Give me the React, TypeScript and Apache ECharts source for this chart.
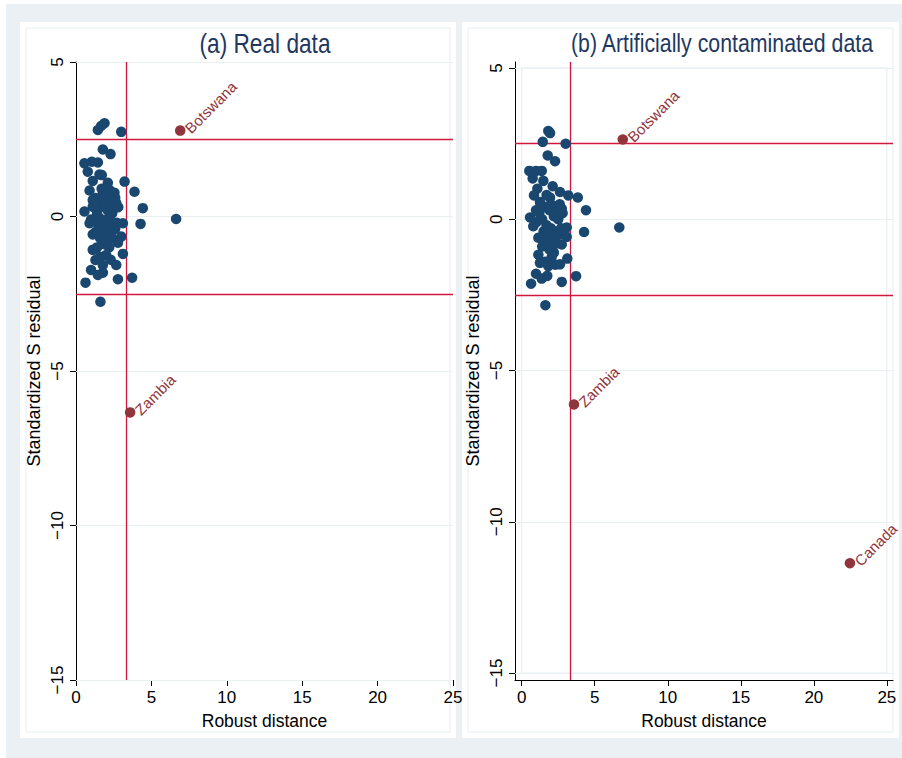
import React, { useEffect, useRef } from "react";
import * as echarts from "echarts";

// Panel (a): Real data
const aX = [1.89, 1.67, 1.45, 3.0, 1.78, 2.29, 0.56, 1.05, 1.45, 0.78, 1.56, 1.71, 1.11, 2.11, 3.22, 3.88, 0.9, 1.78, 2.55, 2.22, 1.11, 1.45, 2.67, 4.43, 0.56, 1.11, 1.78, 2.44, 6.64, 0.9, 1.56, 2.22, 3.11, 4.28, 1.11, 2.0, 3.0, 1.78, 2.78, 1.11, 3.11, 2.0, 1.29, 1.0, 1.78, 2.67, 1.45, 1.78, 2.78, 3.72, 0.63, 1.62,
  1.3, 1.6, 1.9, 2.1, 2.4, 1.4, 1.7, 2.0, 2.3, 2.6, 1.5, 1.8, 2.1, 2.4, 1.6, 1.9, 2.2, 1.4, 2.5, 2.8, 1.2, 1.0, 2.7, 1.3, 2.6, 2.0, 1.7, 2.3, 1.6];
const aY = [3.02, 2.93, 2.8, 2.74, 2.17, 2.02, 1.72, 1.77, 1.75, 1.45, 1.36, 1.34, 1.15, 1.09, 1.13, 0.8, 0.84, 0.75, 0.77, 0.86, 0.53, 0.43, 0.43, 0.27, 0.16, 0.32, 0.32, 0.21, -0.08, -0.22, -0.06, 0.0, -0.22, -0.24, -0.58, -0.49, -0.65, -0.87, -0.85, -1.08, -1.21, -1.25, -1.41, -1.73, -1.57, -1.57, -1.89, -1.82, -2.03, -1.98, -2.14, -2.76,
  0.6, 0.5, 0.4, 0.2, 0.1, 0.1, -0.1, -0.2, -0.3, -0.4, -0.3, -0.4, -0.6, -0.7, -0.7, -0.9, -1.0, -1.0, 0.4, 0.3, 0.3, -0.1, -0.2, -0.5, 0.6, 0.6, 0.9, -1.4, -1.3];
const aLabNames = ["Botswana", "Zambia"];
const aLabX = [6.91, 3.59];
const aLabY = [2.78, -6.34];

// Panel (b): Artificially contaminated data
const bX = [1.82, 1.94, 1.44, 3.01, 1.78, 2.28, 0.52, 0.98, 1.37, 0.75, 1.48, 2.12, 1.07, 2.62, 3.19, 3.84, 0.84, 1.94, 4.4, 1.25, 2.74, 0.98, 0.57, 6.68, 4.27, 3.08, 0.79, 1.14, 3.08, 2.74, 1.71, 1.14, 3.12, 2.05, 2.62, 1.25, 1.82, 0.98, 1.37, 1.75, 3.72, 2.74, 0.64, 1.62,
  1.3, 1.6, 1.9, 2.2, 2.5, 1.4, 1.7, 2.0, 2.3, 2.6, 1.5, 1.8, 2.1, 2.4, 1.6, 1.9, 2.2, 1.4, 2.5, 2.8, 1.2, 1.0, 2.7, 1.3, 2.6, 2.0, 1.7, 2.3, 1.6];
const bY = [2.92, 2.85, 2.56, 2.5, 2.11, 1.92, 1.6, 1.6, 1.6, 1.35, 1.27, 1.09, 1.01, 0.9, 0.79, 0.72, 0.79, 0.72, 0.3, 0.57, 0.35, 0.3, 0.06, -0.27, -0.42, -0.27, -0.23, -0.61, -0.58, -0.83, -0.8, -1.17, -1.3, -1.25, -1.49, -1.44, -1.55, -1.8, -1.96, -1.87, -1.88, -2.07, -2.13, -2.84,
  0.5, 0.4, 0.3, 0.1, 0.0, 0.0, -0.2, -0.3, -0.4, -0.5, -0.4, -0.5, -0.7, -0.8, -0.8, -1.0, -1.1, -0.9, 0.3, 0.2, 0.2, -0.1, -0.3, -0.6, 0.5, 0.5, 0.8, -1.5, -1.4];
const bLabNames = ["Botswana", "Zambia", "Canada"];
const bLabX = [6.92, 3.58, 22.47];
const bLabY = [2.64, -6.12, -11.37];

const xTicks = [0, 5, 10, 15, 20, 25];
const yTicks = [-15, -10, -5, 0, 5];
const cutY = [2.5, -2.5];
const cutX = 3.34;

const FONT = "'Liberation Sans', Arial, sans-serif";
const NAVY = "#1a476f";
const MAROON = "#90353b";
const RED = "#d0183f";
const GRID = "#e9f0f2";

const fmtMinus = (v: number) => (v < 0 ? "\u2212" + Math.abs(v) : String(v));

export default function App() {
  const ref = useRef<HTMLDivElement>(null);
  useEffect(() => {
    if (!ref.current) return;
    const chart = echarts.init(ref.current, undefined, { renderer: "svg" });
    const pts = (xs: number[], ys: number[]) => xs.map((x, i) => [x, ys[i]]);
    const labPts = (names: string[], xs: number[], ys: number[]) =>
      names.map((n, i) => ({ name: n, value: [xs[i], ys[i]] }));

    const refLines = {
      silent: true,
      symbol: "none",
      label: { show: false },
      lineStyle: { color: RED, width: 1.3, type: "solid" },
      data: [...cutY.map((v) => ({ yAxis: v })), { xAxis: cutX }],
    };
    const gridLines = {
      silent: true,
      symbol: "none",
      label: { show: false },
      lineStyle: { color: GRID, width: 1.2, type: "solid" },
      data: yTicks.map((v) => ({ yAxis: v })),
    };

    const xAxisCommon = (idx: number, min: number, max: number) => ({
      gridIndex: idx,
      type: "value",
      min,
      max,
      name: "Robust distance",
      nameLocation: "middle",
      nameGap: 32,
      nameTextStyle: { fontFamily: FONT, fontSize: 17.5, color: "#000" },
      axisLine: { show: true, onZero: false, lineStyle: { color: "#000", width: 1 } },
      axisTick: { show: true, length: 6, lineStyle: { color: "#000" }, customValues: xTicks },
      axisLabel: { fontFamily: FONT, fontSize: 17, color: "#000", margin: 9, customValues: xTicks },
      splitLine: { show: false },
    });
    const yAxisCommon = (idx: number, min: number, max: number) => ({
      gridIndex: idx,
      type: "value",
      min,
      max,
      name: "Standardized S residual",
      nameLocation: "middle",
      nameRotate: 90,
      nameGap: 33,
      nameTextStyle: { fontFamily: FONT, fontSize: 18, color: "#000" },
      axisLine: { show: true, onZero: false, lineStyle: { color: "#000", width: 1 } },
      axisTick: { show: true, length: 6, lineStyle: { color: "#000" }, customValues: yTicks },
      axisLabel: {
        fontFamily: FONT,
        fontSize: 17,
        color: "#000",
        rotate: 90,
        margin: 10,
        customValues: yTicks,
        formatter: (v: number) => fmtMinus(v),
      },
      splitLine: { show: false },
    });

    const labelStyle = {
      show: true,
      position: "right",
      distance: 2,
      rotate: 45,
      formatter: "{b}",
      fontFamily: FONT,
      fontSize: 15,
      color: MAROON,
    };

    chart.setOption({
      animation: false,
      backgroundColor: "#ffffff",
      graphic: [
        { type: "rect", z: -10, shape: { x: 6, y: 4, width: 896, height: 754 }, style: { fill: "#eaf0f3" } },
        { type: "rect", z: -9, shape: { x: 20, y: 22, width: 436, height: 716 }, style: { fill: "#ffffff" } },
        { type: "rect", z: -9, shape: { x: 462, y: 22, width: 437, height: 716 }, style: { fill: "#ffffff" } },
        { type: "rect", z: -8, shape: { x: 26, y: 28, width: 424, height: 704 }, style: { fill: "none", stroke: "#e8eef1", lineWidth: 1 } },
        { type: "rect", z: -8, shape: { x: 468, y: 28, width: 425, height: 704 }, style: { fill: "none", stroke: "#e8eef1", lineWidth: 1 } },
        {
          type: "text", x: 265, y: 43, z: 10, scaleX: 0.84,
          style: { text: "(a) Real data", fontFamily: FONT, fontSize: 27, fill: "#1e3862", textAlign: "center", textVerticalAlign: "middle" },
        },
        {
          type: "text", x: 722, y: 43, z: 10, scaleX: 0.82,
          style: { text: "(b) Artificially contaminated data", fontFamily: FONT, fontSize: 26, fill: "#1e3862", textAlign: "center", textVerticalAlign: "middle" },
        },
      ],
      grid: [
        { left: 76, top: 62, width: 377, height: 618, containLabel: false },
        { left: 515, top: 62, width: 378, height: 618, containLabel: false },
      ],
      xAxis: [xAxisCommon(0, 0, 25), xAxisCommon(1, -0.46, 25.42)],
      yAxis: [yAxisCommon(0, -15, 5), yAxisCommon(1, -15.23, 5.2)],
      series: [
        {
          type: "scatter", xAxisIndex: 0, yAxisIndex: 0, symbolSize: 10.5, z: 3,
          itemStyle: { color: NAVY, opacity: 1 },
          data: pts(aX, aY),
          markLine: { ...gridLines, z: 1 },
        },
        {
          type: "scatter", xAxisIndex: 0, yAxisIndex: 0, symbolSize: 10.5, z: 3,
          itemStyle: { color: MAROON, opacity: 1 },
          data: labPts(aLabNames, aLabX, aLabY),
          label: labelStyle,
          markLine: { ...refLines, z: 2 },
        },
        {
          type: "scatter", xAxisIndex: 1, yAxisIndex: 1, symbolSize: 10.5, z: 3,
          itemStyle: { color: NAVY, opacity: 1 },
          data: pts(bX, bY),
          markLine: { ...gridLines, z: 1 },
          markArea: {
            silent: true,
            itemStyle: { color: "rgba(0,0,0,0)", borderColor: "#e4ecef", borderWidth: 1 },
            data: [[{ xAxis: 0, yAxis: -15 }, { xAxis: 25, yAxis: 5 }]],
          },
        },
        {
          type: "scatter", xAxisIndex: 1, yAxisIndex: 1, symbolSize: 10.5, z: 3,
          itemStyle: { color: MAROON, opacity: 1 },
          data: labPts(bLabNames, bLabX, bLabY),
          label: labelStyle,
          markLine: { ...refLines, z: 2 },
        },
      ],
    });
    return () => chart.dispose();
  }, []);
  return (
    <div
      ref={ref}
      style={{ position: "absolute", left: 0, top: 0, width: 902, height: 758 }}
    />
  );
}
